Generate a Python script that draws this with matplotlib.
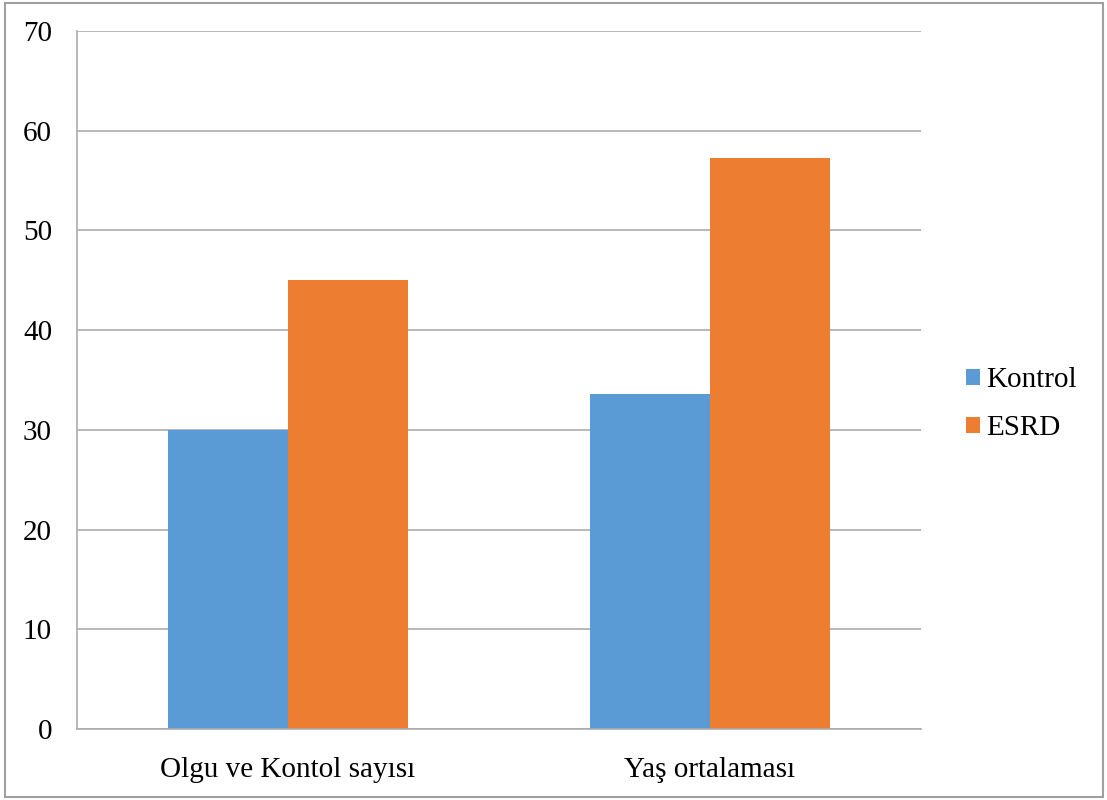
import numpy as np
import matplotlib
import matplotlib.pyplot as plt
from matplotlib.patches import Rectangle
matplotlib.use('Agg')

plt.rcParams['font.family'] = ['Liberation Serif', 'DejaVu Serif']

categories = ['Olgu ve Kontol sayısı', 'Yaş ortalaması']
kontrol = [30, 33.6]
esrd = [45, 57.3]
series_names = ['Kontrol', 'ESRD']

blue = '#5B9BD5'
orange = '#ED7D31'
grid_color = '#ABABAB'
font_size = 21

fig = plt.figure(figsize=(11.07, 8.0), dpi=100)
ax = fig.add_axes([77/1107, 1 - 729/800, (921-77)/1107, (729-31)/800])

x = np.arange(len(categories))
w = 0.284
ax.bar(x - w/2, kontrol, w, color=blue, label=series_names[0], linewidth=0)
ax.bar(x + w/2, esrd, w, color=orange, label=series_names[1], linewidth=0)

ax.set_xlim(-0.5, 1.5)
ax.set_ylim(0, 70)
ax.set_yticks(np.arange(0, 71, 10))
ax.set_xticks(x)
ax.set_xticklabels(categories)
ax.yaxis.grid(True, color=grid_color, linewidth=1.2)
ax.set_axisbelow(True)

for side in ['top', 'right']:
    ax.spines[side].set_visible(False)
for side in ['left', 'bottom']:
    ax.spines[side].set_color(grid_color)
    ax.spines[side].set_linewidth(1.2)

ax.tick_params(axis='both', length=0, labelsize=font_size)
ax.tick_params(axis='y', pad=18)
ax.tick_params(axis='x', pad=20)

ax.legend(loc='center left', bbox_to_anchor=(1.039, 0.465), frameon=False,
          fontsize=font_size, handlelength=0.5, handleheight=0.5,
          handletextpad=0.2, labelspacing=0.75, borderaxespad=0)

# outer frame around the whole chart
fig.patches.append(Rectangle((5/1107, 3/800), 1098/1107, 794/800,
                             transform=fig.transFigure, fill=False,
                             edgecolor='#A0A0A0', linewidth=1.5))

fig.savefig('out.png', dpi=100)
